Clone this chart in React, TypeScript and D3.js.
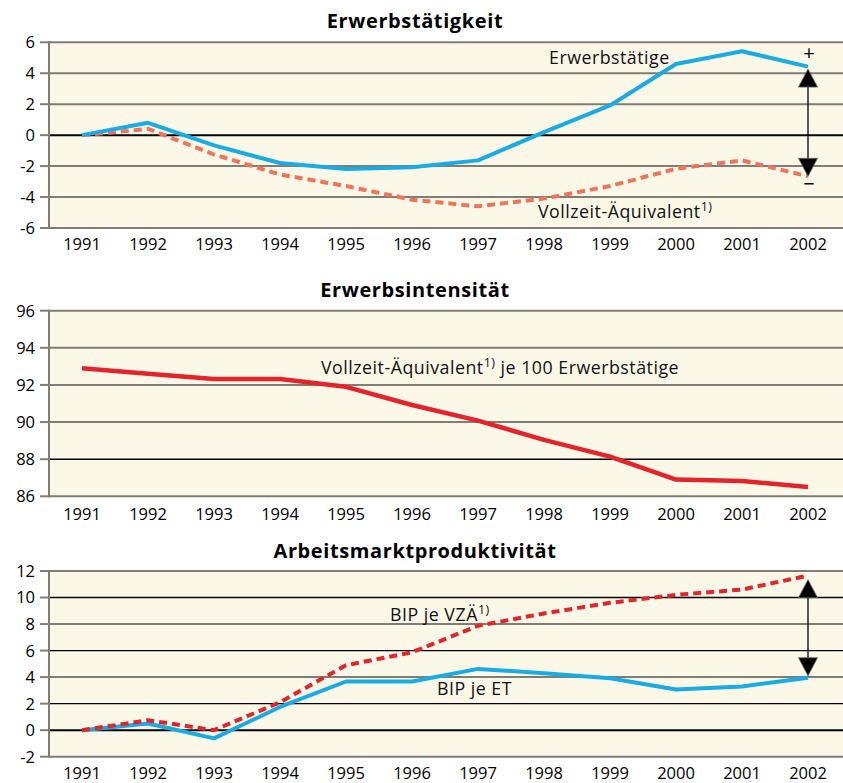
import React from "react";
import * as d3 from "d3";

const years = ["1991", "1992", "1993", "1994", "1995", "1996", "1997", "1998", "1999", "2000", "2001", "2002"];

const erwerbstaetige = [0, 0.8, -0.66, -1.8, -2.19, -2.08, -1.63, 0.2, 1.92, 4.6, 5.42, 4.43];
const vollzeitAequivalent = [0, 0.41, -1.25, -2.54, -3.29, -4.17, -4.6, -4.1, -3.29, -2.17, -1.63, -2.66];

const erwerbsintensitaet = [92.9, 92.6, 92.32, 92.32, 91.9, 90.92, 90.08, 89.04, 88.14, 86.9, 86.83, 86.5];

const bipJeVZAE = [0, 0.75, 0, 2.1, 4.9, 5.87, 7.87, 8.8, 9.6, 10.2, 10.6, 11.65];
const bipJeET = [0, 0.5, -0.62, 1.75, 3.67, 3.67, 4.62, 4.3, 3.92, 3.07, 3.3, 3.95];

const ticksErwerbstaetigkeit = [-6, -4, -2, 0, 2, 4, 6];
const ticksErwerbsintensitaet = [86, 88, 90, 92, 94, 96];
const ticksProduktivitaet = [-2, 0, 2, 4, 6, 8, 10, 12];

const FONT = "'Open Sans', 'Noto Sans', sans-serif";
const BLUE = "#19ace3";
const ORANGE = "#f0745a";
const RED = "#e5232b";
const BG = "#fcf8e8";
const GRID = "#7f7d74";

const X0 = 49;
const X1 = 843;

type Series = { values: number[]; color: string; dashed?: boolean; width?: number };

function Panel(props: {
  title: string;
  titleY: number;
  top: number;
  bottom: number;
  ticks: number[];
  series: Series[];
  labelY: number;
  darkTicks?: number[];
  children?: (x: d3.ScaleBand<string>, y: d3.ScaleLinear<number, number>) => React.ReactNode;
}) {
  const { title, titleY, top, bottom, ticks, series, labelY, darkTicks = [] } = props;
  const x = d3.scaleBand<string>().domain(years).range([X0, X0 + 66 * 12]);
  const y = d3.scaleLinear().domain([ticks[0], ticks[ticks.length - 1]]).range([bottom, top]);
  const cx = (d: string) => (x(d) as number) + x.bandwidth() / 2;
  const line = d3
    .line<number>()
    .x((_, i) => cx(years[i]))
    .y((v) => y(v));
  return (
    <g>
      <text
        x={415}
        y={titleY}
        textAnchor="middle"
        fontFamily={FONT}
        fontWeight="bold"
        fontSize={20}
        letterSpacing={0.6}
        fill="#000"
      >
        {title}
      </text>
      <rect x={X0} y={top} width={X1 - X0} height={bottom - top} fill={BG} />
      {ticks.map((t) => {
        const isZero = t === 0;
        const dark = darkTicks.includes(t);
        return (
          <g key={t}>
            <line
              x1={X0}
              x2={X1}
              y1={y(t)}
              y2={y(t)}
              stroke={isZero || dark ? "#000" : GRID}
              strokeWidth={isZero ? 2 : dark ? 1.4 : 2}
            />
            <line x1={40} x2={X0} y1={y(t)} y2={y(t)} stroke={GRID} strokeWidth={2} />
            <text x={35} y={y(t)} dy="0.36em" textAnchor="end" fontFamily={FONT} fontSize={16.5} fill="#000">
              {t}
            </text>
          </g>
        );
      })}
      <line x1={X0} x2={X0} y1={top - 1} y2={bottom + 1} stroke={GRID} strokeWidth={2} />
      {years.map((yr) => (
        <text key={yr} x={cx(yr)} y={labelY} textAnchor="middle" fontFamily={FONT} fontSize={16.5} fill="#000">
          {yr}
        </text>
      ))}
      {series.map((s, i) => (
        <path
          key={i}
          d={line(s.values) as string}
          fill="none"
          stroke={s.color}
          strokeWidth={s.width ?? 4}
          strokeDasharray={s.dashed ? "8 5" : undefined}
          strokeLinejoin="round"
        />
      ))}
      {props.children ? props.children(x, y) : null}
    </g>
  );
}

function DoubleArrow(props: { x: number; yTop: number; yBottom: number }) {
  const { x, yTop, yBottom } = props;
  const h = 18;
  const w = 9.5;
  return (
    <g>
      <line x1={x} x2={x} y1={yTop + h} y2={yBottom - h} stroke="#000" strokeWidth={1.3} />
      <path d={`M${x},${yTop}L${x - w},${yTop + h}L${x + w},${yTop + h}Z`} fill="#000" stroke="#666" strokeWidth={0.8} />
      <path d={`M${x},${yBottom}L${x - w},${yBottom - h}L${x + w},${yBottom - h}Z`} fill="#000" stroke="#666" strokeWidth={0.8} />
    </g>
  );
}

const labelStyle = { fontFamily: FONT, fontSize: 17.8, letterSpacing: 0.5, fill: "#111" } as const;

export default function App() {
  const last = years[years.length - 1];
  return (
    <svg width={843} height={783} style={{ position: "absolute", left: 0, top: 0 }}>
      <rect width={843} height={783} fill="#fff" />
      <Panel
        title="Erwerbstätigkeit"
        titleY={28}
        top={42.3}
        bottom={228}
        ticks={ticksErwerbstaetigkeit}
        labelY={250}
        series={[
          { values: vollzeitAequivalent, color: ORANGE, dashed: true },
          { values: erwerbstaetige, color: BLUE },
        ]}
      >
        {(x, y) => {
          const ax = (x(last) as number) + x.bandwidth() / 2;
          return (
            <g>
              <DoubleArrow
                x={ax}
                yTop={y(erwerbstaetige[erwerbstaetige.length - 1]) + 2.5}
                yBottom={y(vollzeitAequivalent[vollzeitAequivalent.length - 1])}
              />
              <text x={ax + 1} y={60} textAnchor="middle" fontFamily={FONT} fontSize={20} fill="#000">
                +
              </text>
              <text x={ax + 1} y={191} textAnchor="middle" fontFamily={FONT} fontSize={20} fill="#000">
                −
              </text>
              <text x={549} y={64} {...labelStyle}>
                Erwerbstätige
              </text>
              <text x={538} y={218} {...labelStyle}>
                Vollzeit-Äquivalent
                <tspan fontSize={12.5} dy={-7}>
                  1)
                </tspan>
              </text>
            </g>
          );
        }}
      </Panel>
      <Panel
        title="Erwerbsintensität"
        titleY={297}
        top={310.7}
        bottom={496.3}
        ticks={ticksErwerbsintensitaet}
        labelY={520}
        darkTicks={[88]}
        series={[{ values: erwerbsintensitaet, color: RED, width: 4.5 }]}
      >
        {() => (
          <text x={321} y={374} {...labelStyle}>
            Vollzeit-Äquivalent
            <tspan fontSize={12.5} dy={-7}>
              1)
            </tspan>
            <tspan dy={7}> je 100 Erwerbstätige</tspan>
          </text>
        )}
      </Panel>
      <Panel
        title="Arbeitsmarktproduktivität"
        titleY={558}
        top={571}
        bottom={756.7}
        ticks={ticksProduktivitaet}
        labelY={779}
        darkTicks={[10, 6, 2]}
        series={[
          { values: bipJeET, color: BLUE },
          { values: bipJeVZAE, color: RED, dashed: true },
        ]}
      >
        {(x, y) => {
          const ax = (x(last) as number) + x.bandwidth() / 2;
          return (
            <g>
              <DoubleArrow
                x={ax}
                yTop={y(bipJeVZAE[bipJeVZAE.length - 1]) + 4}
                yBottom={y(bipJeET[bipJeET.length - 1]) - 2}
              />
              <text x={390} y={621} {...labelStyle}>
                BIP je VZÄ
                <tspan fontSize={12.5} dy={-7}>
                  1)
                </tspan>
              </text>
              <text x={437} y={695} {...labelStyle}>
                BIP je ET
              </text>
            </g>
          );
        }}
      </Panel>
    </svg>
  );
}
